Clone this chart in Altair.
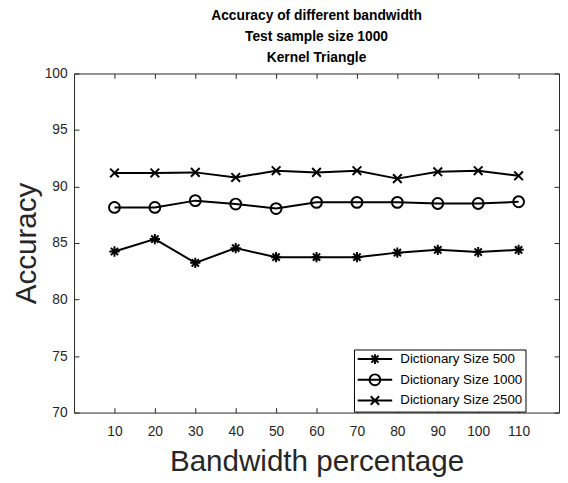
import altair as alt
import pandas as pd

bandwidth = [10, 20, 30, 40, 50, 60, 70, 80, 90, 100, 110]
acc_500 = [84.25, 85.35, 83.25, 84.55, 83.75, 83.75, 83.75, 84.15, 84.4, 84.2, 84.4]
acc_1000 = [88.15, 88.15, 88.75, 88.45, 88.05, 88.6, 88.6, 88.6, 88.5, 88.5, 88.65]
acc_2500 = [91.2, 91.2, 91.25, 90.8, 91.4, 91.25, 91.4, 90.7, 91.3, 91.4, 90.95]
series_names = ["Dictionary Size 500", "Dictionary Size 1000", "Dictionary Size 2500"]
y_ticks = [70, 75, 80, 85, 90, 95, 100]
title_lines = ["Accuracy of different bandwidth", "Test sample size 1000", "Kernel Triangle"]

rows = []
for name, vals in zip(series_names, [acc_500, acc_1000, acc_2500]):
    for b, v in zip(bandwidth, vals):
        rows.append({"bandwidth": b, "accuracy": v, "series": name})
df = pd.DataFrame(rows)

marker_paths = [
    "M0,-0.95L0,0.95M-0.95,0L0.95,0M-0.67,-0.67L0.67,0.67M-0.67,0.67L0.67,-0.67",
    "circle",
    "M-0.8,-0.8L0.8,0.8M-0.8,0.8L0.8,-0.8",
]
legend_paths = [
    "M-3.5,0L3.5,0M0,-1L0,1M-0.72,-0.72L0.72,0.72M-0.72,0.72L0.72,-0.72",
    "M-3.5,0L3.5,0M1.1,0A1.1,1.1,0,1,1,-1.1,0A1.1,1.1,0,1,1,1.1,0",
    "M-3.5,0L3.5,0M-0.85,-0.85L0.85,0.85M-0.85,0.85L0.85,-0.85",
]

FONT = "Liberation Sans"
AX = "#262626"
xscale = alt.Scale(domain=[0, 120], nice=False, zero=False)
yscale = alt.Scale(domain=[70, 100], nice=False, zero=False)

common_axis = dict(domain=False, grid=False, tickSize=5, offset=-5, tickColor=AX,
                   tickWidth=1, labelFont=FONT, labelFontSize=14, labelColor=AX,
                   titleFont=FONT, titleFontSize=30, titleFontWeight="normal", titleColor=AX)

lines = alt.Chart(df).mark_line(color="black", strokeWidth=2).encode(
    x=alt.X("bandwidth:Q", scale=xscale,
            axis=alt.Axis(orient="bottom", values=bandwidth, labelPadding=12,
                          title="Bandwidth percentage", titlePadding=9, **common_axis)),
    y=alt.Y("accuracy:Q", scale=yscale,
            axis=alt.Axis(orient="left", values=y_ticks, labelPadding=7,
                          title="Accuracy", titlePadding=3, **common_axis)),
    detail="series:N",
)

points = alt.Chart(df).mark_point(filled=False, color="black", strokeWidth=2, size=121, opacity=1).encode(
    x=alt.X("bandwidth:Q", scale=xscale,
            axis=alt.Axis(orient="top", values=bandwidth, labels=False, title=None, **common_axis)),
    y=alt.Y("accuracy:Q", scale=yscale,
            axis=alt.Axis(orient="right", values=y_ticks, labels=False, title=None, **common_axis)),
    shape=alt.Shape("series:N", scale=alt.Scale(domain=series_names, range=marker_paths), legend=None),
)

legend_layer = alt.Chart(df).transform_filter("datum.bandwidth < 0").mark_point(
    filled=False, color="black", strokeWidth=2, opacity=1
).encode(
    x=alt.X("bandwidth:Q", scale=xscale, axis=None),
    y=alt.Y("accuracy:Q", scale=yscale, axis=None),
    shape=alt.Shape("series:N", scale=alt.Scale(domain=series_names, range=legend_paths),
                    legend=alt.Legend(orient="none", legendX=284, legendY=280, title=None,
                                      symbolSize=100, symbolStrokeWidth=2, symbolStrokeColor="black",
                                      symbolFillColor="transparent", symbolOffset=11.5,
                                      labelOffset=19, labelFont=FONT, labelFontSize=13.5,
                                      labelColor="black", strokeColor="black", fillColor="white",
                                      padding=3, rowPadding=2)),
)

chart = alt.layer(lines, points, legend_layer).resolve_scale(shape="independent").resolve_axis(
    x="independent", y="independent"
).properties(
    width=492, height=344,
    title=alt.TitleParams(text=title_lines, fontSize=14, fontWeight="bold", font=FONT,
                          color="black", anchor="middle", lineHeight=21, offset=2),
    autosize=alt.AutoSizeParams(type="none"),
    padding={"left": 67, "top": 63, "right": 1, "bottom": 68},
).configure_view(stroke=AX, strokeWidth=1)

chart.save("out.html", embed_options={"renderer": "svg", "actions": False})
